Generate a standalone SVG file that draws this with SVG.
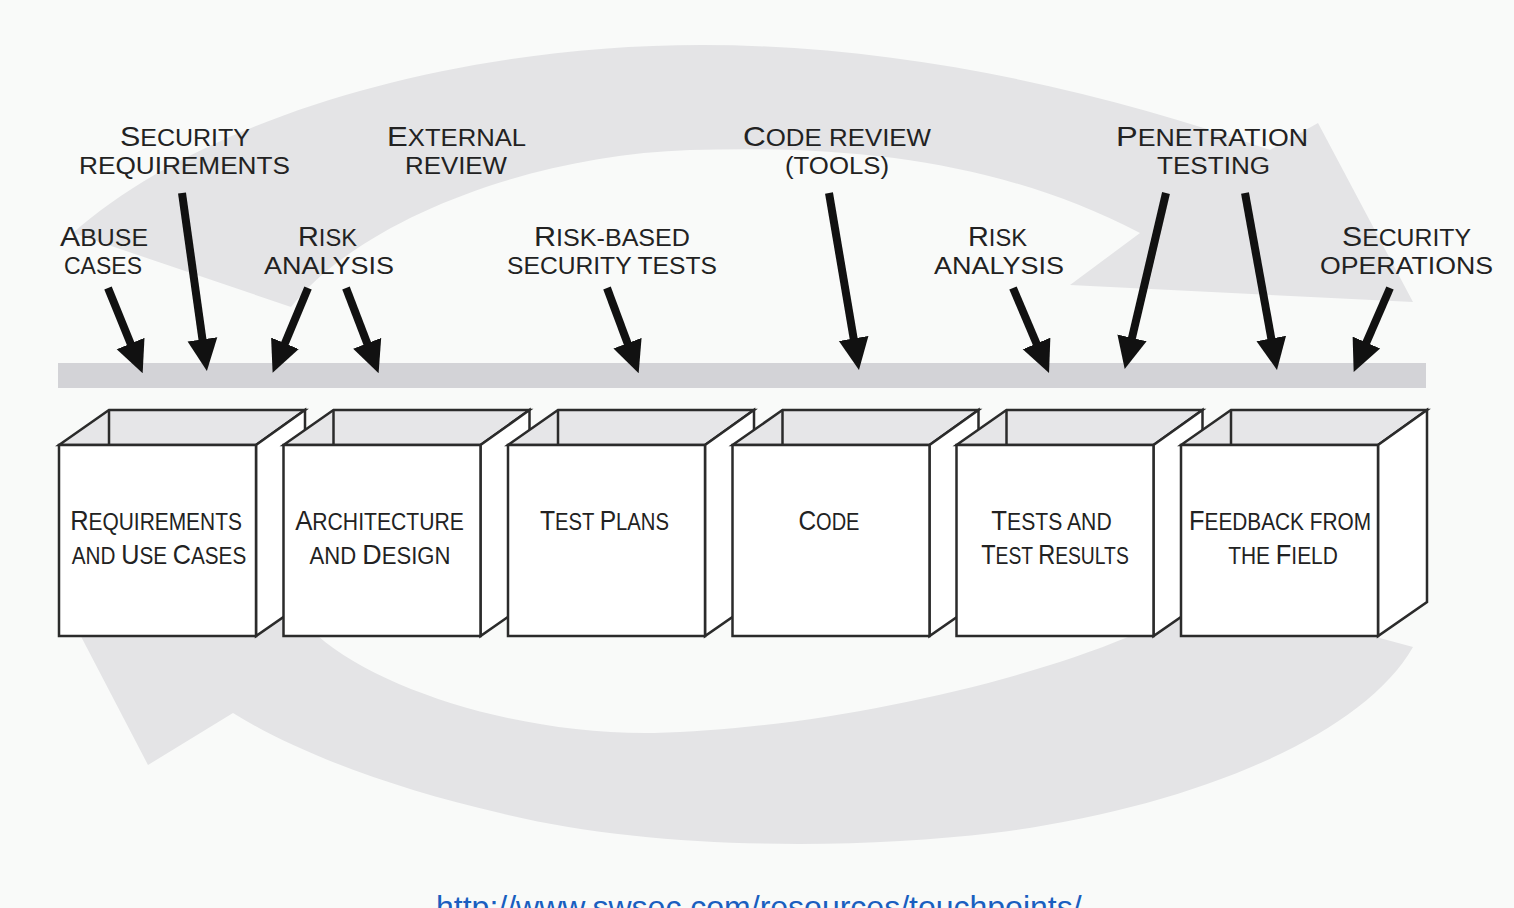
<svg xmlns="http://www.w3.org/2000/svg" width="1514" height="908" viewBox="0 0 1514 908">
<defs>
<style>
.bg{fill:#f9faf9}
.band{fill:#e4e4e6}
.bar{fill:#d3d3d7}
.front{fill:#ffffff;stroke:#2b2b2b;stroke-width:2.5;stroke-linejoin:miter}
.top{fill:#e6e6e8;stroke:#2b2b2b;stroke-width:2.5;stroke-linejoin:miter}
.side{fill:#ffffff;stroke:#2b2b2b;stroke-width:2.5;stroke-linejoin:miter}
.edge{stroke:#2b2b2b;stroke-width:2.5;fill:none}
.t{font-family:"Liberation Sans",Arial,sans-serif;font-size:23px;fill:#222;text-anchor:middle}
.c{font-size:28px}
.arr{stroke:#111;stroke-width:8;fill:none;marker-end:url(#ah)}
.url{font-family:"Liberation Sans",Arial,sans-serif;font-size:32px;fill:#1a5fc0}
</style>
<marker id="ah" markerUnits="userSpaceOnUse" markerWidth="32" markerHeight="32" viewBox="0 0 32 32" refX="4" refY="16" orient="auto">
<path d="M0,1 L32,16 L0,31 z" fill="#111"/>
</marker>
</defs>
<rect class="bg" x="0" y="0" width="1514" height="908"/>

<g id="cycle">
<path class="band" d="M73,233 C200,120 450,45 702,45 C900,45 1100,90 1270,150 L1318,123 L1413,302 L1070,285 L1140,233 C1000,160 850,145 690,150 C530,155 360,220 291,307 Z"/>
<path class="band" d="M1413,647 C1360,740 1180,810 993,833 C850,850 650,850 500,813 C400,790 300,755 233,713 L148,765 L62,600 L300,560 L318,636 C380,690 520,735 654,733 C800,730 1000,690 1128,637 L1200,600 L1376,600 L1376,637 Z"/>
</g>

<g id="bar"><rect class="bar" x="58" y="363" width="1368" height="25"/></g>

<g id="touchpoint-labels">
<text class="t" x="185" y="146" textLength="130" lengthAdjust="spacingAndGlyphs"><tspan class="c">S</tspan>ECURITY</text>
<text class="t" x="184.5" y="174" textLength="211" lengthAdjust="spacingAndGlyphs">REQUIREMENTS</text>
<text class="t" x="456.5" y="146" textLength="139" lengthAdjust="spacingAndGlyphs"><tspan class="c">E</tspan>XTERNAL</text>
<text class="t" x="456" y="174" textLength="102" lengthAdjust="spacingAndGlyphs">REVIEW</text>
<text class="t" x="837" y="146" textLength="188" lengthAdjust="spacingAndGlyphs"><tspan class="c">C</tspan>ODE REVIEW</text>
<text class="t" x="837" y="174" textLength="104" lengthAdjust="spacingAndGlyphs">(TOOLS)</text>
<text class="t" x="1212" y="146" textLength="192" lengthAdjust="spacingAndGlyphs"><tspan class="c">P</tspan>ENETRATION</text>
<text class="t" x="1213.5" y="174" textLength="113" lengthAdjust="spacingAndGlyphs">TESTING</text>
<text class="t" x="104" y="246" textLength="88" lengthAdjust="spacingAndGlyphs"><tspan class="c">A</tspan>BUSE</text>
<text class="t" x="103" y="274" textLength="78" lengthAdjust="spacingAndGlyphs">CASES</text>
<text class="t" x="327.5" y="246" textLength="59" lengthAdjust="spacingAndGlyphs"><tspan class="c">R</tspan>ISK</text>
<text class="t" x="329" y="274" textLength="130" lengthAdjust="spacingAndGlyphs">ANALYSIS</text>
<text class="t" x="612" y="246" textLength="156" lengthAdjust="spacingAndGlyphs"><tspan class="c">R</tspan>ISK-BASED</text>
<text class="t" x="612" y="274" textLength="210" lengthAdjust="spacingAndGlyphs">SECURITY TESTS</text>
<text class="t" x="997.5" y="246" textLength="59" lengthAdjust="spacingAndGlyphs"><tspan class="c">R</tspan>ISK</text>
<text class="t" x="999" y="274" textLength="130" lengthAdjust="spacingAndGlyphs">ANALYSIS</text>
<text class="t" x="1406.5" y="246" textLength="129" lengthAdjust="spacingAndGlyphs"><tspan class="c">S</tspan>ECURITY</text>
<text class="t" x="1406.5" y="274" textLength="173" lengthAdjust="spacingAndGlyphs">OPERATIONS</text>
</g>

<g id="connectors">
<path class="arr" d="M108,288 L132.1,347.2"/>
<path class="arr" d="M182,193 L203,343.3"/>
<path class="arr" d="M308,288 L283.4,347"/>
<path class="arr" d="M346,288 L368.6,347"/>
<path class="arr" d="M607,288 L628.9,346.9"/>
<path class="arr" d="M829,193 L854.3,342.4"/>
<path class="arr" d="M1013,288 L1038.1,347.2"/>
<path class="arr" d="M1166,193 L1131.1,341.7"/>
<path class="arr" d="M1245,193 L1272,342.4"/>
<path class="arr" d="M1390,288 L1364.8,346.2"/>
</g>

<g id="box-requirements">
<polygon class="top" points="59,445 109,410 305,410 256,445"/>
<line class="edge" x1="109" y1="410" x2="109" y2="445"/>
<polygon class="side" points="256,445 305,410 305,602 256,636"/>
<rect class="front" x="59" y="445" width="197" height="191"/>
<text class="t" transform="translate(156,530) scale(0.91,1)"><tspan class="c">R</tspan>EQUIREMENTS</text>
<text class="t" transform="translate(159,564) scale(0.9,1)">AND <tspan class="c">U</tspan>SE <tspan class="c">C</tspan>ASES</text>
</g>
<g id="box-architecture">
<polygon class="top" points="283.5,445 333.5,410 529.5,410 480.5,445"/>
<line class="edge" x1="333.5" y1="410" x2="333.5" y2="445"/>
<polygon class="side" points="480.5,445 529.5,410 529.5,602 480.5,636"/>
<rect class="front" x="283.5" y="445" width="197" height="191"/>
<text class="t" transform="translate(379.5,530) scale(0.92,1)"><tspan class="c">A</tspan>RCHITECTURE</text>
<text class="t" transform="translate(380,564) scale(0.96,1)">AND <tspan class="c">D</tspan>ESIGN</text>
</g>
<g id="box-testplans">
<polygon class="top" points="508,445 558,410 754,410 705,445"/>
<line class="edge" x1="558" y1="410" x2="558" y2="445"/>
<polygon class="side" points="705,445 754,410 754,602 705,636"/>
<rect class="front" x="508" y="445" width="197" height="191"/>
<text class="t" transform="translate(604.5,530) scale(0.88,1)"><tspan class="c">T</tspan>EST <tspan class="c">P</tspan>LANS</text>
</g>
<g id="box-code">
<polygon class="top" points="732.5,445 782.5,410 978.5,410 929.5,445"/>
<line class="edge" x1="782.5" y1="410" x2="782.5" y2="445"/>
<polygon class="side" points="929.5,445 978.5,410 978.5,602 929.5,636"/>
<rect class="front" x="732.5" y="445" width="197" height="191"/>
<text class="t" transform="translate(829,530) scale(0.87,1)"><tspan class="c">C</tspan>ODE</text>
</g>
<g id="box-tests">
<polygon class="top" points="956.5,445 1006.5,410 1202.5,410 1153.5,445"/>
<line class="edge" x1="1006.5" y1="410" x2="1006.5" y2="445"/>
<polygon class="side" points="1153.5,445 1202.5,410 1202.5,602 1153.5,636"/>
<rect class="front" x="956.5" y="445" width="197" height="191"/>
<text class="t" transform="translate(1051.5,530) scale(0.92,1)"><tspan class="c">T</tspan>ESTS AND</text>
<text class="t" transform="translate(1055,564) scale(0.84,1)"><tspan class="c">T</tspan>EST <tspan class="c">R</tspan>ESULTS</text>
</g>
<g id="box-feedback">
<polygon class="top" points="1181,445 1231,410 1427,410 1378,445"/>
<line class="edge" x1="1231" y1="410" x2="1231" y2="445"/>
<polygon class="side" points="1378,445 1427,410 1427,602 1378,636"/>
<rect class="front" x="1181" y="445" width="197" height="191"/>
<text class="t" transform="translate(1280,530) scale(0.905,1)"><tspan class="c">F</tspan>EEDBACK FROM</text>
<text class="t" transform="translate(1283,564) scale(0.91,1)">THE <tspan class="c">F</tspan>IELD</text>
</g>

<g id="source">
<text class="url" x="436" y="918">http://www.swsec.com/resources/touchpoints/</text>
</g>
</svg>
